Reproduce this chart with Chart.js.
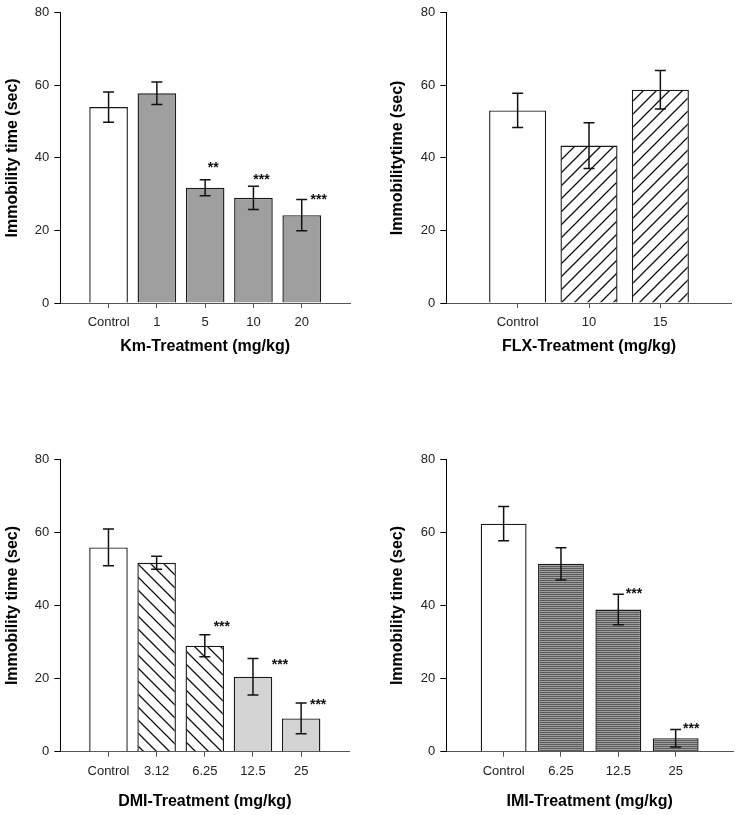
<!DOCTYPE html>
<html>
<head>
<meta charset="utf-8">
<script src="https://cdn.jsdelivr.net/npm/chart.js@4"></script>
<style>
  body { margin: 0; background: #fff; }
  #wrap { position: relative; width: 740px; height: 815px; }
  canvas { position: absolute; }
</style>
</head>
<body>
<div id="wrap">
  <canvas id="km" width="370" height="360" style="left:0;top:0"></canvas>
  <canvas id="flx" width="370" height="360" style="left:370px;top:0"></canvas>
  <canvas id="dmi" width="370" height="415" style="left:0;top:400px"></canvas>
  <canvas id="imi" width="370" height="415" style="left:370px;top:400px"></canvas>
</div>
<script>
// Km panel
const kmLabels = ["Control", "1", "5", "10", "20"];
const kmMeans = [54.0, 57.8, 31.8, 29.0, 24.2];
const kmSem = [4.2, 3.1, 2.2, 3.2, 4.3];
const kmStars = ["", "", "**", "***", "***"];
const kmStarAt = [null, null, 38.4, 34.9, 29.5];

// FLX panel
const flxLabels = ["Control", "10", "15"];
const flxMeans = [53.1, 43.4, 58.8];
const flxSem = [4.7, 6.3, 5.3];

// DMI panel
const dmiLabels = ["Control", "3.12", "6.25", "12.5", "25"];
const dmiMeans = [55.9, 51.7, 29.0, 20.5, 9.1];
const dmiSem = [5.0, 1.8, 3.0, 5.0, 4.2];
const dmiStars = ["", "", "***", "***", "***"];
const dmiStarAt = [null, null, 35.3, 24.8, 13.9];

// IMI panel
const imiLabels = ["Control", "6.25", "12.5", "25"];
const imiMeans = [62.4, 51.4, 38.9, 3.7];
const imiSem = [4.7, 4.4, 4.2, 2.4];
const imiStars = ["", "", "***", "***"];
const imiStarAt = [null, null, 44.2, 7.2];

const yTicks = [0, 20, 40, 60, 80];

// --- Fuellmuster ---
function hatch(dir) {
    const s = 13;
    const c = document.createElement("canvas");
    c.width = s; c.height = s;
    const g = c.getContext("2d");
    g.fillStyle = "#fff";
    g.fillRect(0, 0, s, s);
    g.strokeStyle = "#111";
    g.lineWidth = 1.3;
    g.beginPath();
    if (dir > 0) {
        g.moveTo(-1, s + 1); g.lineTo(s + 1, -1);
        g.moveTo(-1, 1); g.lineTo(1, -1);
        g.moveTo(s - 1, s + 1); g.lineTo(s + 1, s - 1);
    } else {
        g.moveTo(-1, -1); g.lineTo(s + 1, s + 1);
        g.moveTo(s - 1, -1); g.lineTo(s + 1, 1);
        g.moveTo(-1, s - 1); g.lineTo(1, s + 1);
    }
    g.stroke();
    return g.createPattern(c, "repeat");
}

function stripes() {
    const c = document.createElement("canvas");
    c.width = 2; c.height = 2;
    const g = c.getContext("2d");
    g.fillStyle = "#5c5c5c"; g.fillRect(0, 0, 2, 1);
    g.fillStyle = "#9c9c9c"; g.fillRect(0, 1, 2, 1);
    return g.createPattern(c, "repeat");
}

const WHITE = "#ffffff";
const KM_GRAY = "#9f9f9f";
const LIGHT = "#d4d4d4";
const SLASH = hatch(1);
const BACKSLASH = hatch(-1);
const STRIPES = stripes();

// Fehlerbalken + Sternchen
const errorBars = {
    id: "errorBars",
    afterDatasetsDraw(chart, args, opts) {
        const ctx = chart.ctx;
        const y = chart.scales.y;
        const meta = chart.getDatasetMeta(0);
        const vals = chart.data.datasets[0].data;
        ctx.save();
        ctx.strokeStyle = "#111";
        ctx.lineWidth = 1.5;
        vals.forEach((v, i) => {
            if (v == null) return;
            const e = opts.sem[i - 1];
            const x = meta.data[i].x;
            const yt = y.getPixelForValue(v + e);
            const yb = y.getPixelForValue(v - e);
            ctx.beginPath();
            ctx.moveTo(x, yt); ctx.lineTo(x, yb);
            ctx.moveTo(x - 5.5, yt); ctx.lineTo(x + 5.5, yt);
            ctx.moveTo(x - 5.5, yb); ctx.lineTo(x + 5.5, yb);
            ctx.stroke();
        });
        if (opts.stars) {
            ctx.font = "bold 14px 'Liberation Sans', Arial";
            ctx.fillStyle = "#111";
            ctx.textAlign = "center";
            ctx.textBaseline = "alphabetic";
            opts.stars.forEach((s, i) => {
                if (!s) return;
                const x = meta.data[i + 1].x + opts.starDx[i];
                const yy = y.getPixelForValue(opts.starAt[i]) + 14 * 0.57;
                ctx.fillText(s, x, yy);
            });
        }
        ctx.restore();
    }
};

const tickFont = { family: "'Liberation Sans', Arial", size: 13 };
const titleFont = { family: "'Liberation Sans', Arial", size: 16, weight: "bold" };

function makeChart(id, p) {
    const labels = ["", ...p.labels, ""];
    const data = [null, ...p.means, null];
    const fills = [null, ...p.fills, null];
    const H = document.getElementById(id).height;
    new Chart(document.getElementById(id), {
        type: "bar",
        plugins: [errorBars],
        data: {
            labels: labels,
            datasets: [{
                data: data,
                backgroundColor: fills,
                borderColor: "#1a1a1a",
                borderWidth: 1.4,
                categoryPercentage: 1,
                barPercentage: 0.8
            }]
        },
        options: {
            responsive: false,
            animation: false,
            devicePixelRatio: 1,
            layout: { padding: { left: p.padLeft, right: p.padRight, top: p.top, bottom: 0 } },
            plugins: {
                legend: { display: false },
                tooltip: { enabled: false },
                errorBars: { sem: p.sem, stars: p.stars, starAt: p.starAt, starDx: p.starDx }
            },
            scales: {
                x: {
                    type: "category",
                    offset: false,
                    afterFit: s => { s.height = H - p.bottom; },
                    grid: {
                        offset: false,
                        drawOnChartArea: false,
                        tickLength: 5,
                        tickColor: c => (c.tick && c.tick.label) ? "#555" : "rgba(0,0,0,0)"
                    },
                    border: { display: true, color: "#555", width: 1 },
                    ticks: { font: tickFont, color: "#222", padding: 7, maxRotation: 0, autoSkip: false },
                    title: { display: true, text: p.xTitle, font: titleFont, color: "#000", padding: { top: 4, bottom: 3.4 } }
                },
                y: {
                    min: 0,
                    max: 80,
                    afterFit: s => { s.width = p.yWidth; },
                    afterBuildTicks: s => { s.ticks = yTicks.map(v => ({ value: v })); },
                    grid: { drawOnChartArea: false, tickLength: 6, color: "#000" },
                    border: { display: true, color: "#000", width: 1 },
                    ticks: { font: tickFont, color: "#222", padding: 5 },
                    title: { display: true, text: p.yTitle, font: titleFont, color: "#000", padding: { top: 3.4, bottom: 4 } }
                }
            }
        }
    });
}

makeChart("km", {
    labels: kmLabels, means: kmMeans, sem: kmSem,
    fills: [WHITE, KM_GRAY, KM_GRAY, KM_GRAY, KM_GRAY],
    stars: kmStars, starAt: kmStarAt, starDx: [0, 0, 8, 8, 17],
    xTitle: "Km-Treatment (mg/kg)", yTitle: "Immobility time (sec)",
    padLeft: 0, yWidth: 60.3, padRight: 20, top: 10.7, bottom: 303
});

makeChart("flx", {
    labels: flxLabels, means: flxMeans, sem: flxSem,
    fills: [WHITE, SLASH, SLASH],
    xTitle: "FLX-Treatment (mg/kg)", yTitle: "Immobilitytime (sec)",
    padLeft: 15, yWidth: 61.3, padRight: 8.3, top: 10.7, bottom: 303
});

makeChart("dmi", {
    labels: dmiLabels, means: dmiMeans, sem: dmiSem,
    fills: [WHITE, BACKSLASH, BACKSLASH, LIGHT, LIGHT],
    stars: dmiStars, starAt: dmiStarAt, starDx: [0, 0, 17, 27, 17],
    xTitle: "DMI-Treatment (mg/kg)", yTitle: "Immobility time (sec)",
    padLeft: 0, yWidth: 60.3, padRight: 20.7, top: 59.3, bottom: 351.7
});

makeChart("imi", {
    labels: imiLabels, means: imiMeans, sem: imiSem,
    fills: [WHITE, STRIPES, STRIPES, STRIPES],
    stars: imiStars, starAt: imiStarAt, starDx: [0, 0, 15.7, 15.6],
    xTitle: "IMI-Treatment (mg/kg)", yTitle: "Immobility time (sec)",
    padLeft: 15, yWidth: 61.3, padRight: 4.3, top: 59.3, bottom: 351.7
});
</script>
</body>
</html>
